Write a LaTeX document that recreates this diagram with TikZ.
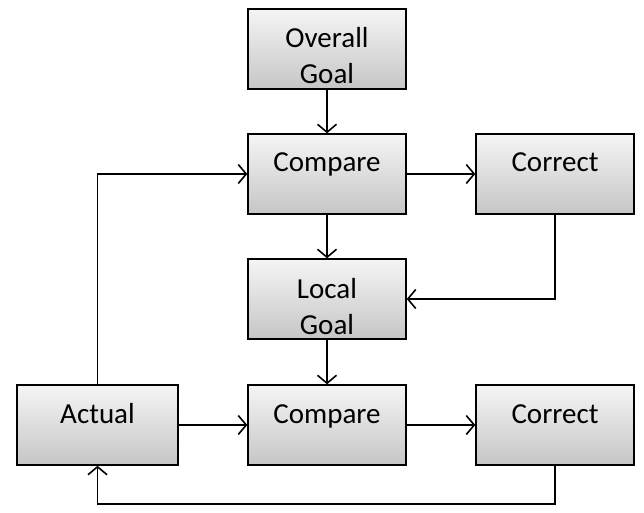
\documentclass[tikz,border=0pt]{standalone}
\usepackage{fontspec}
\setmainfont{Carlito}
\usetikzlibrary{positioning,arrows.meta}
\begin{document}
\begin{tikzpicture}[x=1pt,y=1pt,
    node distance=43.6pt and 68.6pt,
    line width=1.6pt,
    >={Straight Barb[length=8pt,width=19pt]},
    box/.style={draw=black,line width=1.4pt,top color=gray!8,bottom color=gray!45,
      minimum width=158pt,minimum height=80pt,inner sep=0pt,
      font=\fontsize{29}{36}\selectfont},
    onebox/.style={box,text height=38pt,text depth=42pt},
    twobox/.style={box,align=center,text height=75pt,text depth=5pt}]
    \useasboundingbox (0,0) rectangle (644,512);
    \node[twobox] (goal) at (327,463) {Overall\\Goal};
    \node[onebox,below=of goal] (cmpA) {Compare};
    \node[onebox,right=of cmpA] (corA) {Correct};
    \node[twobox,below=of cmpA] (local) {Local\\Goal};
    \node[onebox,below=44.6pt of local] (cmpB) {Compare};
    \node[onebox,right=of cmpB] (corB) {Correct};
    \node[onebox,left=of cmpB,minimum width=161pt] (actual) {Actual};
    \draw[->] (goal) -- (cmpA);
    \draw[->] (cmpA) -- (corA);
    \draw[->] (cmpA) -- (local);
    \draw[->] (corA) |- (local);
    \draw[->] (local) -- (cmpB);
    \draw[->] (cmpB) -- (corB);
    \draw[->] (actual) -- (cmpB);
    \draw[->] (actual) |- (cmpA);
    \draw[->] (corB.south) -- ++(0,-38) -| (actual.south);
\end{tikzpicture}
\end{document}
